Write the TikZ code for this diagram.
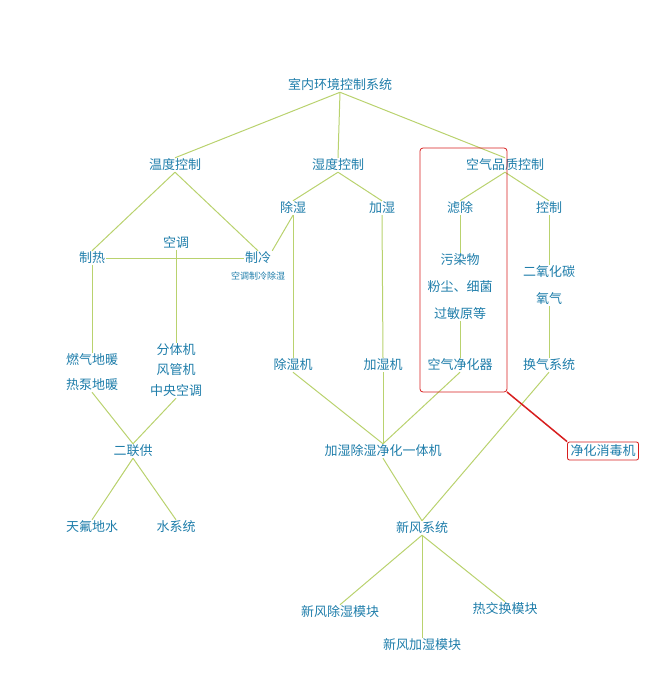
\documentclass[tikz,border=0pt]{standalone}
\usepackage{fontspec}
\newfontfamily\cjk{Noto Sans CJK SC}
\definecolor{tx}{RGB}{30,125,170}
\definecolor{ln}{RGB}{185,210,110}
\definecolor{rd}{RGB}{215,30,30}
\begin{document}
\begin{tikzpicture}[x=1pt,y=-1pt,
  t/.style={font=\cjk\fontsize{13}{15}\selectfont,text=tx,inner sep=1pt},
  s/.style={font=\cjk\fontsize{9}{10}\selectfont,text=tx,inner sep=1pt},
  c/.style={draw=ln,line width=1pt}]
\useasboundingbox (0,0) rectangle (660,683);
\node[t] (root) at (340,85) {室内环境控制系统};
\node[t] (wd) at (175,165) {温度控制};
\node[t] (sd) at (338,165) {湿度控制};
\node[t] (kq) at (505,165) {空气品质控制};
\node[t] (cs) at (293,208) {除湿};
\node[t] (js) at (382,208) {加湿};
\node[t] (lc) at (460,208) {滤除};
\node[t] (kz) at (549,208) {控制};
\node[t] (kt) at (176,243) {空调};
\node[t] (zr) at (92,258) {制热};
\node[t] (zl) at (258,258) {制冷};
\node[s] (ktl) at (258,276) {空调制冷除湿};
\node[t] (w1) at (460,260) {污染物};
\node[t] (w2) at (460,287) {粉尘、细菌};
\node[t] (w3) at (460,314) {过敏原等};
\node[t] (c1) at (549,272) {二氧化碳};
\node[t] (c2) at (549,299) {氧气};
\node[t] (r1) at (92,360) {燃气地暖};
\node[t] (r2) at (92,385) {热泵地暖};
\node[t] (f1) at (176,350) {分体机};
\node[t] (f2) at (176,370) {风管机};
\node[t] (f3) at (176,391) {中央空调};
\node[t] (csj) at (293,365) {除湿机};
\node[t] (jsj) at (383,365) {加湿机};
\node[t] (jhq) at (460,365) {空气净化器};
\node[t] (hq) at (549,365) {换气系统};
\node[t] (elg) at (133,451) {二联供};
\node[t] (yt) at (383,451) {加湿除湿净化一体机};
\node[t,draw=rd,rounded corners=2pt,inner sep=3pt,line width=0.8pt] (xd) at (603,451) {净化消毒机};
\node[t] (tf) at (92,527) {天氟地水};
\node[t] (sx) at (176,527) {水系统};
\node[t] (xf) at (422,528) {新风系统};
\node[t] (m1) at (340,612) {新风除湿模块};
\node[t] (m3) at (505,609) {热交换模块};
\node[t] (m2) at (422,645) {新风加湿模块};
\draw[c] (root.south) -- (wd.north); \draw[c] (root.south) -- (sd.north); \draw[c] (root.south) -- (kq.north);
\draw[c] (wd.south) -- (zr.north); \draw[c] (wd.south) -- (zl.north);
\draw[c] (zr.east) -- (zl.west);
\draw[c] (kt.south) -- (f1.north);
\draw[c] (zr.south) -- (r1.north);
\draw[c] (r2.south) -- (elg.north); \draw[c] (f3.south) -- (elg.north);
\draw[c] (elg.south) -- (tf.north); \draw[c] (elg.south) -- (sx.north);
\draw[c] (sd.south) -- (cs.north); \draw[c] (sd.south) -- (js.north);
\draw[c] (cs.south) -- (zl.north east);
\draw[c] (cs.south) -- (csj.north); \draw[c] (js.south) -- (jsj.north);
\draw[c] (csj.south) -- (yt.north); \draw[c] (jsj.south) -- (yt.north); \draw[c] (jhq.south) -- (yt.north);
\draw[c] (yt.south) -- (xf.north); \draw[c] (hq.south) -- (xf.north);
\draw[c] (xf.south) -- (m1.north); \draw[c] (xf.south) -- (m2.north); \draw[c] (xf.south) -- (m3.north);
\draw[c] (kq.south) -- (lc.north); \draw[c] (kq.south) -- (kz.north);
\draw[c] (lc.south) -- (w1.north); \draw[c] (w3.south) -- (jhq.north);
\draw[c] (kz.south) -- (c1.north); \draw[c] (c2.south) -- (hq.north);
\draw[rd,line width=0.8pt,rounded corners=3pt] (420,148) rectangle (507,392);
\coordinate (rb) at (507,392);
\draw[rd,line width=1.5pt] (rb) -- (xd.north west);
\end{tikzpicture}
\end{document}
